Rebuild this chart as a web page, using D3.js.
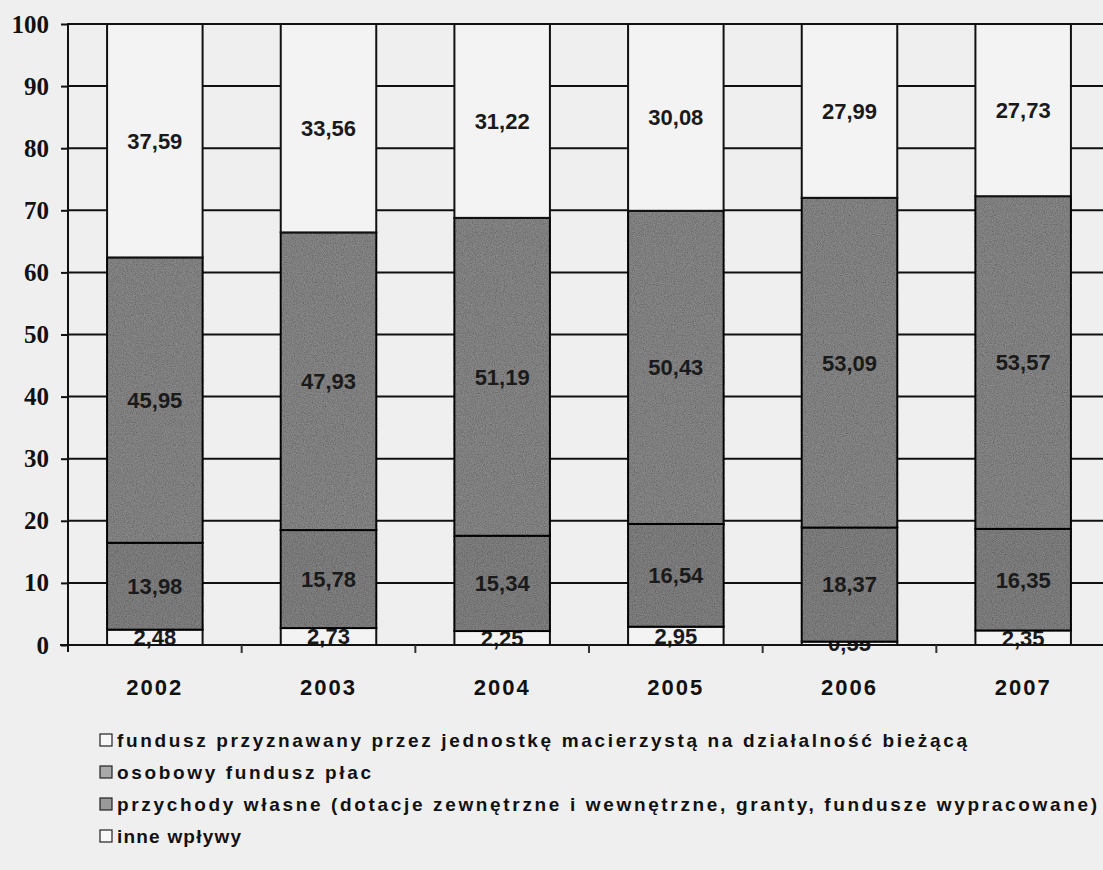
<!DOCTYPE html>
<html>
<head>
<meta charset="utf-8">
<script src="https://cdn.jsdelivr.net/npm/d3@7"></script>
<style>
  html, body { margin: 0; padding: 0; background: #efefef; }
  svg { display: block; }
</style>
</head>
<body>
<div id="chart"></div>
<script>
const width = 1103, height = 870;

// data (per cent)
const years = ["2002", "2003", "2004", "2005", "2006", "2007"];
const inneWplywy = [2.48, 2.73, 2.25, 2.95, 0.55, 2.35];
const przychodyWlasne = [13.98, 15.78, 15.34, 16.54, 18.37, 16.35];
const osobowyFundusz = [45.95, 47.93, 51.19, 50.43, 53.09, 53.57];
const funduszPrzyznawany = [37.59, 33.56, 31.22, 30.08, 27.99, 27.73];
const yTicks = [0, 10, 20, 30, 40, 50, 60, 70, 80, 90, 100];

const legendLabels = [
	"fundusz przyznawany przez jednostkę macierzystą na działalność bieżącą",
	"osobowy fundusz płac",
	"przychody własne (dotacje zewnętrzne i wewnętrzne, granty, fundusze wypracowane)",
	"inne wpływy"
];

// stacking order, bottom to top
const keys = ["inne", "przychody", "osobowy", "przyznawany"];
const table = years.map((y, i) => ({
	year: y,
	inne: inneWplywy[i],
	przychody: przychodyWlasne[i],
	osobowy: osobowyFundusz[i],
	przyznawany: funduszPrzyznawany[i]
}));

const fills = {
	inne: "#f3f3f3",
	przychody: "#828282",
	osobowy: "#888888",
	przyznawany: "#f3f3f3"
};

const svg = d3.select("#chart")
	.append("svg")
	.attr("width", width)
	.attr("height", height);

// grain texture for the gray bars
const defs = svg.append("defs");
const grain = defs.append("filter")
	.attr("id", "grain")
	.attr("x", "-5%").attr("y", "-5%")
	.attr("width", "110%").attr("height", "110%");
grain.append("feTurbulence")
	.attr("type", "fractalNoise")
	.attr("baseFrequency", 0.9)
	.attr("numOctaves", 2)
	.attr("seed", 4)
	.attr("result", "noise");
grain.append("feColorMatrix")
	.attr("in", "noise")
	.attr("type", "matrix")
	.attr("values", "0 0 0 0 0  0 0 0 0 0  0 0 0 0 0  0.9 0 0 0 -0.3")
	.attr("result", "dots");
grain.append("feComposite")
	.attr("in", "dots").attr("in2", "SourceGraphic")
	.attr("operator", "in").attr("result", "dotsIn");
const merge = grain.append("feMerge");
merge.append("feMergeNode").attr("in", "SourceGraphic");
merge.append("feMergeNode").attr("in", "dotsIn");

const x = d3.scaleBand()
	.domain(years)
	.range([68, 1110])
	.paddingInner(0.45)
	.paddingOuter(0.225);

const y = d3.scaleLinear()
	.domain([0, 100])
	.range([645, 24]);

const fmt = (v) => d3.format(".2f")(v).replace(".", ",");

// horizontal gridlines
svg.append("g")
	.selectAll("line")
	.data(yTicks.filter((t) => t > 0))
	.join("line")
	.attr("x1", 68)
	.attr("x2", width)
	.attr("y1", (d) => y(d))
	.attr("y2", (d) => y(d))
	.attr("stroke", "#111")
	.attr("stroke-width", 2);

const series = d3.stack().keys(keys)(table);

const layers = svg.append("g");

series.forEach(function(s) {
	const g = layers.append("g");

	g.selectAll("rect")
		.data(s)
		.join("rect")
		.attr("x", (d) => x(d.data.year))
		.attr("width", x.bandwidth())
		.attr("y", (d) => y(d[1]))
		.attr("height", (d) => y(d[0]) - y(d[1]))
		.attr("fill", fills[s.key])
		.attr("filter", (s.key === "przychody" || s.key === "osobowy") ? "url(#grain)" : null)
		.attr("stroke", "#111")
		.attr("stroke-width", 2);

	g.selectAll("text")
		.data(s)
		.join("text")
		.attr("x", (d) => x(d.data.year) + x.bandwidth() / 2)
		.attr("y", (d) => (y(d[0]) + y(d[1])) / 2)
		.attr("dy", "0.36em")
		.attr("text-anchor", "middle")
		.attr("font-family", "'Liberation Sans', Arial, sans-serif")
		.attr("font-weight", "bold")
		.attr("font-size", 22)
		.attr("fill", "#1a1a1a")
		.text((d) => fmt(d.data[s.key]));
});

// axes
const yAxis = d3.axisLeft(y)
	.tickValues(yTicks)
	.tickSize(7)
	.tickPadding(12)
	.tickFormat(d3.format("d"));

const yG = svg.append("g")
	.attr("transform", "translate(68,0)")
	.call(yAxis);
yG.select(".domain").remove();
yG.selectAll(".tick line").attr("stroke", "#111").attr("stroke-width", 2);
yG.selectAll(".tick text")
	.attr("font-family", "'Liberation Serif', 'Times New Roman', serif")
	.attr("font-weight", "bold")
	.attr("font-size", 25)
	.attr("fill", "#111");

svg.append("line")
	.attr("x1", 68).attr("x2", 68)
	.attr("y1", y(100) - 1).attr("y2", 652)
	.attr("stroke", "#111").attr("stroke-width", 2);

svg.append("line")
	.attr("x1", 60).attr("x2", width)
	.attr("y1", y(0)).attr("y2", y(0))
	.attr("stroke", "#111").attr("stroke-width", 2);

// category boundary ticks
svg.append("g")
	.selectAll("line")
	.data(years.slice(1))
	.join("line")
	.attr("x1", (d) => x(d) - x.step() * x.paddingInner() / 2)
	.attr("x2", (d) => x(d) - x.step() * x.paddingInner() / 2)
	.attr("y1", y(0))
	.attr("y2", y(0) + 8)
	.attr("stroke", "#333")
	.attr("stroke-width", 2);

svg.append("g")
	.selectAll("text")
	.data(years)
	.join("text")
	.attr("x", (d) => x(d) + x.bandwidth() / 2)
	.attr("y", 695)
	.attr("text-anchor", "middle")
	.attr("font-family", "'Liberation Sans', Arial, sans-serif")
	.attr("font-weight", "bold")
	.attr("font-size", 22)
	.attr("letter-spacing", 2)
	.attr("fill", "#111")
	.text((d) => d);

// legend
const legendFills = ["#f7f7f7", "#a9a9a9", "#9a9a9a", "#f7f7f7"];
const legendWidths = [850, 254, 980, 124];

const legend = svg.append("g")
	.selectAll("g")
	.data(legendLabels)
	.join("g")
	.attr("transform", (d, i) => `translate(100, ${740 + i * 32})`);

legend.append("rect")
	.attr("x", 0)
	.attr("y", -6)
	.attr("width", 12)
	.attr("height", 12)
	.attr("fill", (d, i) => legendFills[i])
	.attr("stroke", "#222")
	.attr("stroke-width", 1.2);

legend.append("text")
	.attr("x", 17)
	.attr("dy", "0.36em")
	.attr("font-family", "'Liberation Sans', Arial, sans-serif")
	.attr("font-weight", "bold")
	.attr("font-size", 19)
	.attr("fill", "#111")
	.attr("textLength", (d, i) => legendWidths[i])
	.attr("lengthAdjust", "spacing")
	.text((d) => d);
</script>
</body>
</html>
